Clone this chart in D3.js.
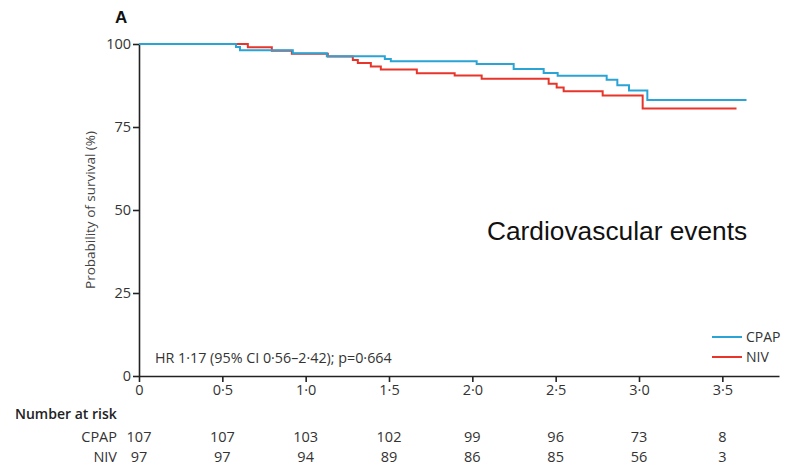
<!DOCTYPE html>
<html>
<head>
<meta charset="utf-8">
<script src="https://cdn.jsdelivr.net/npm/d3@7/dist/d3.min.js"></script>
<style>
  html, body { margin: 0; padding: 0; background: #fff; }
  svg { display: block; }
</style>
</head>
<body>
<svg id="chart" width="788" height="468"></svg>
<script>
// Kaplan–Meier step points: time (years) and survival (%)
const cpapTimes    = [0, 0.582, 0.606, 0.923, 1.127, 1.475, 1.511, 2.026, 2.248, 2.428, 2.512, 2.806, 2.870, 2.940, 3.050, 3.645];
const cpapSurvival = [100, 99.1, 98.1, 97.2, 96.3, 95.5, 94.8, 94.0, 92.5, 91.3, 90.4, 89.2, 87.6, 86.0, 83.1, 83.1];

const nivTimes     = [0, 0.653, 0.797, 0.917, 1.133, 1.283, 1.313, 1.391, 1.451, 1.667, 1.894, 2.056, 2.458, 2.506, 2.548, 2.782, 3.022, 3.585];
const nivSurvival  = [100, 99.0, 98.0, 97.1, 96.2, 95.2, 94.3, 93.2, 92.3, 91.2, 90.5, 89.5, 88.0, 86.9, 85.8, 84.5, 80.6, 80.6];

// Axis ticks and numbers at risk
const xTicks = [0, 0.5, 1.0, 1.5, 2.0, 2.5, 3.0, 3.5];
const yTicks = [0, 25, 50, 75, 100];
const riskCPAP = [107, 107, 103, 102, 99, 96, 73, 8];
const riskNIV  = [97, 97, 94, 89, 86, 85, 56, 3];

const seriesNames  = ["CPAP", "NIV"];
const seriesColors = ["#2aa3d5", "#e8352b"];

const svg = d3.select("#chart");
const font = "'Open Sans', sans-serif";
const textColor = "#333";

const x = d3.scaleLinear().domain([0, 3.84]).range([139, 779]);
const y = d3.scaleLinear().domain([0, 100]).range([376, 44]);

const fmt = d => d === 0 ? "0" : d3.format(".1f")(d).replace(".", "\u00b7");

// Axes
const yAxis = svg.append("g")
  .attr("transform", `translate(${x(0)},0)`)
  .call(d3.axisLeft(y).tickValues(yTicks).tickSize(6).tickSizeOuter(0).tickPadding(2));
const xAxis = svg.append("g")
  .attr("transform", `translate(0,${y(0)})`)
  .call(d3.axisBottom(x).tickValues(xTicks).tickFormat(fmt).tickSize(6).tickSizeOuter(0).tickPadding(3));

[yAxis, xAxis].forEach(g => {
  g.selectAll("path.domain").attr("stroke", "#222").attr("stroke-width", 1.6);
  g.selectAll(".tick line").attr("stroke", "#222").attr("stroke-width", 1.6);
  g.selectAll(".tick text").attr("font-family", font).attr("font-size", 14.5).attr("fill", textColor);
});

// Survival curves
const line = d3.line()
  .x(d => x(d[0]))
  .y(d => y(d[1]))
  .curve(d3.curveStepAfter);

const series = [
  d3.zip(cpapTimes, cpapSurvival),
  d3.zip(nivTimes, nivSurvival)
];

// draw NIV first so CPAP sits on top where they overlap
[1, 0].forEach(i => {
  svg.append("path")
    .datum(series[i])
    .attr("fill", "none")
    .attr("stroke", seriesColors[i])
    .attr("stroke-width", 2)
    .attr("d", line);
});

// Panel letter
svg.append("text")
  .attr("x", 115).attr("y", 23)
  .attr("font-family", "'Liberation Sans', Arial, sans-serif")
  .attr("font-weight", "bold")
  .attr("font-size", 17)
  .attr("fill", "#111")
  .text("A");

// Y axis title
svg.append("text")
  .attr("transform", `translate(95,${y(50)}) rotate(-90)`)
  .attr("text-anchor", "middle")
  .attr("font-family", font)
  .attr("font-size", 13.5)
  .attr("fill", "#444")
  .text("Probability of survival (%)");

// Outcome label
svg.append("text")
  .attr("x", 487).attr("y", 240)
  .attr("font-family", "'Liberation Sans', Arial, sans-serif")
  .attr("font-size", 26.3)
  .attr("fill", "#111")
  .text("Cardiovascular events");

// Hazard ratio
svg.append("text")
  .attr("x", 155).attr("y", 363)
  .attr("font-family", font)
  .attr("font-size", 14.3)
  .attr("fill", textColor)
  .text("HR 1\u00b717 (95% CI 0\u00b756\u20132\u00b742); p=0\u00b7664");

// Legend
const legend = svg.append("g");
seriesNames.forEach((name, i) => {
  const ly = 337 + i * 20;
  legend.append("line")
    .attr("x1", 712).attr("x2", 742)
    .attr("y1", ly).attr("y2", ly)
    .attr("stroke", seriesColors[i]).attr("stroke-width", 2);
  legend.append("text")
    .attr("x", 746).attr("y", ly + 5)
    .attr("font-family", font)
    .attr("font-size", 14)
    .attr("fill", textColor)
    .text(name);
});

// Number at risk table
svg.append("text")
  .attr("x", 15).attr("y", 419)
  .attr("font-family", font)
  .attr("font-weight", 600)
  .attr("font-size", 14)
  .attr("fill", "#222")
  .text("Number at risk");

[riskCPAP, riskNIV].forEach((row, r) => {
  const by = 442 + r * 20;
  svg.append("text")
    .attr("x", 117).attr("y", by)
    .attr("text-anchor", "end")
    .attr("font-family", font)
    .attr("font-size", 14.5)
    .attr("fill", textColor)
    .text(seriesNames[r]);
  svg.append("g").selectAll("text")
    .data(row)
    .join("text")
    .attr("x", (d, i) => x(xTicks[i]))
    .attr("y", by)
    .attr("text-anchor", "middle")
    .attr("font-family", font)
    .attr("font-size", 14.5)
    .attr("fill", textColor)
    .text(d => d);
});
</script>
</body>
</html>
